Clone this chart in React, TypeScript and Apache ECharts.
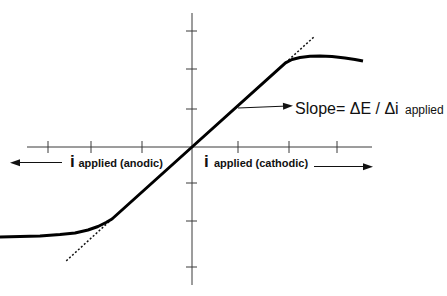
import React, { useEffect, useRef } from "react";
import * as echarts from "echarts";

// Units: current i (x) and potential E (y), schematic units.
const axisX: number[][] = [[-16.5, 0], [18.0, 0]];
const axisY: number[][] = [[0, 13.4], [0, -13.8]];
const xTicks: number[] = [-14.4, -10.1, -5.0, 4.6, 9.7, 14.5];
const yTicks: number[] = [11.6, 7.8, 3.8, -3.6, -7.4, -12.0];

// Polarization curve: anodic plateau, linear region, cathodic plateau
const curveAnodic: number[][] = [
  [-19.2, -9.0], [-17.2, -8.95], [-15.2, -8.9], [-13.2, -8.75], [-11.7, -8.6],
  [-10.4, -8.3], [-9.4, -7.95], [-8.6, -7.55], [-8.0, -7.2],
];
const curveLinear: number[][] = [[-8.0, -7.2], [0, 0], [9.35, 8.42]];
const curveCathodic: number[][] = [
  [9.35, 8.42], [10.0, 8.75], [10.8, 8.95], [11.8, 9.07], [12.8, 9.1],
  [14.0, 9.05], [15.3, 8.9], [16.3, 8.75], [17.1, 8.6],
];
const tangentUpper: number[][] = [[9.35, 8.42], [12.3, 11.1]];
const tangentLower: number[][] = [[-8.0, -7.2], [-12.7, -11.5]];

const slopeArrow: number[][] = [[4.6, 3.9], [9.6, 4.1]];
const anodicArrow: number[][] = [[-13.0, -1.57], [-17.7, -1.57]];
const cathodicArrow: number[][] = [[12.2, -1.97], [17.6, -1.97]];

export default function App() {
  const ref = useRef<HTMLDivElement>(null);
  useEffect(() => {
    if (!ref.current) return;
    const chart = echarts.init(ref.current, null, { renderer: "svg" });
    const fam = '"Liberation Sans", Arial, sans-serif';
    const axisColor = "#3a3a3a";
    const tickRender = (vertical: boolean) => (params: any, api: any) => {
      const v = api.value(0);
      const p1 = vertical ? api.coord([v, 0.6]) : api.coord([-0.6, v]);
      const p2 = vertical ? api.coord([v, -0.6]) : api.coord([0.5, v]);
      return {
        type: "line",
        shape: { x1: p1[0], y1: p1[1], x2: p2[0], y2: p2[1] },
        style: { stroke: axisColor, lineWidth: 1 },
      };
    };
    const arrowLine = (pts: number[][]) => [
      { coord: pts[0], symbol: "none" },
      { coord: pts[1], symbol: "triangle" },
    ];
    chart.setOption({
      animation: false,
      backgroundColor: "#ffffff",
      grid: { left: 0, right: 0, top: 0, bottom: 0 },
      xAxis: { type: "value", min: -19.2, max: 25.5, show: false },
      yAxis: { type: "value", min: -14.9, max: 14.7, show: false },
      series: [
        {
          type: "line", data: axisX, showSymbol: false, silent: true,
          lineStyle: { color: axisColor, width: 1 },
          markLine: {
            silent: true, symbolSize: [7, 10], animation: false,
            label: { show: false },
            lineStyle: { color: "#111", width: 1.2, type: "solid" },
            data: [arrowLine(slopeArrow), arrowLine(anodicArrow), arrowLine(cathodicArrow)],
          },
        },
        {
          type: "line", data: axisY, showSymbol: false, silent: true,
          lineStyle: { color: axisColor, width: 1 },
        },
        {
          type: "custom", data: xTicks.map((v) => [v]), renderItem: tickRender(true), silent: true,
        },
        {
          type: "custom", data: yTicks.map((v) => [v]), renderItem: tickRender(false), silent: true,
        },
        {
          type: "line", data: tangentUpper, showSymbol: false, silent: true,
          lineStyle: { color: "#111", width: 1.5, type: [2, 2] },
        },
        {
          type: "line", data: tangentLower, showSymbol: false, silent: true,
          lineStyle: { color: "#111", width: 1.5, type: [2, 2] },
        },
        {
          type: "line",
          data: [...curveAnodic, ...curveLinear.slice(1), ...curveCathodic.slice(1)],
          showSymbol: false, silent: true,
          lineStyle: { color: "#000", width: 3, join: "round", cap: "butt" },
        },
      ],
      graphic: [
        { type: "text", x: 295, y: 108.5, style: { text: "Slope= ΔE / Δi", font: `16px ${fam}`, fill: "#111", verticalAlign: "middle" } },
        { type: "text", x: 405, y: 109.8, style: { text: "applied", font: `12px ${fam}`, fill: "#111", verticalAlign: "middle" } },
        { type: "text", x: 70, y: 161.1, style: { text: "i", font: `bold 17px ${fam}`, fill: "#111", verticalAlign: "middle" } },
        { type: "text", x: 78.5, y: 163.2, style: { text: "applied (anodic)", font: `bold 11px ${fam}`, fill: "#111", verticalAlign: "middle" } },
        { type: "text", x: 204, y: 161.1, style: { text: "i", font: `bold 17px ${fam}`, fill: "#111", verticalAlign: "middle" } },
        { type: "text", x: 214, y: 163.2, style: { text: "applied (cathodic)", font: `bold 11px ${fam}`, fill: "#111", verticalAlign: "middle" } },
      ],
    });
    return () => chart.dispose();
  }, []);
  return (
    <div
      ref={ref}
      style={{ position: "fixed", left: 0, top: 0, width: 447, height: 296, background: "#fff" }}
    />
  );
}
